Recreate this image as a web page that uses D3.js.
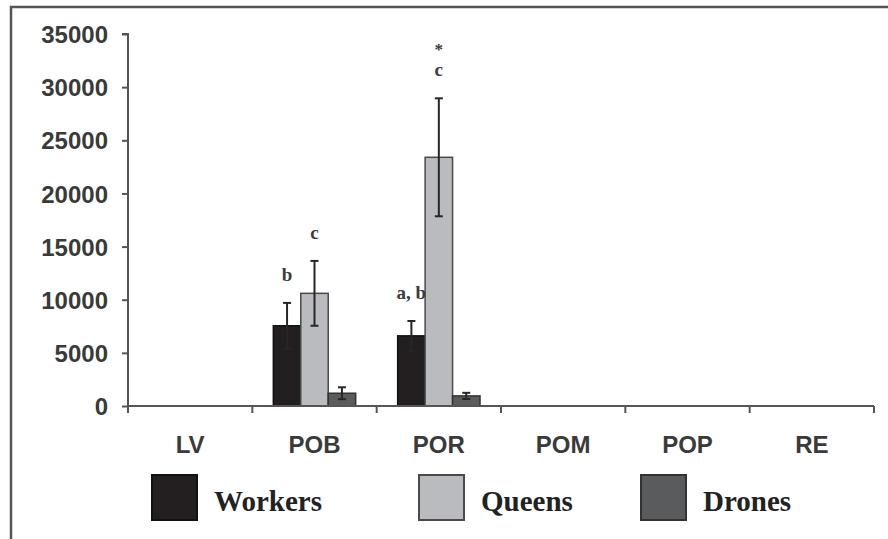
<!DOCTYPE html>
<html><head>
<meta charset="utf-8">
<title>Workers, Queens, Drones</title>
<script src="https://d3js.org/d3.v7.min.js"></script>
<style>
  body { margin: 0; background: #fff; }
  svg { display: block; }
  .tick-label { font-family: "Liberation Sans", Arial, sans-serif; font-weight: bold; font-size: 24px; fill: #3a3a3a; }
  .legend-label { font-family: "Liberation Serif", "Times New Roman", serif; font-weight: bold; font-size: 29px; fill: #222; }
  .letter { font-family: "Liberation Serif", "Times New Roman", serif; font-weight: bold; font-size: 19px; fill: #3c3c3c; }
</style>
</head>
<body>
<svg width="888" height="539"></svg>
<script>

// data
let categories = ["LV", "POB", "POR", "POM", "POP", "RE"];
let series = ["Workers", "Queens", "Drones"];
let colors = ["#231f20", "#babbbf", "#5a5b5d"];
let strokes = ["#111111", "#4a4a4a", "#333333"];
let means = {
  Workers: [0, 7550, 6600, 0, 0, 0],
  Queens:  [0, 10600, 23400, 0, 0, 0],
  Drones:  [0, 1200, 950, 0, 0, 0]
};
let errors = {
  Workers: [0, 2150, 1400, 0, 0, 0],
  Queens:  [0, 3050, 5550, 0, 0, 0],
  Drones:  [0, 560, 290, 0, 0, 0]
};
let yTicks = [0, 5000, 10000, 15000, 20000, 25000, 30000, 35000];
// significance letters: [category, series, lines from bottom to top]
let letters = [
  ["POB", "Workers", ["b"]],
  ["POB", "Queens", ["c"]],
  ["POR", "Workers", ["a, b"]],
  ["POR", "Queens", ["c", "*"]]
];

let svg = d3.select("svg");

// outer frame (runs off the right and bottom edge)
svg.append("rect")
    .attr("x", 11).attr("y", 7)
    .attr("width", 900).attr("height", 560)
    .style("fill", "none").style("stroke", "#555").style("stroke-width", 2.5);

let plotLeft = 128, plotRight = 874, plotTop = 34, plotBottom = 406;

let x = d3.scaleBand().domain(categories).range([plotLeft, plotRight]);
let x1 = d3.scaleBand().domain(series).range([21, x.bandwidth() - 21]);
let y = d3.scaleLinear().domain([0, 35000]).range([plotBottom, plotTop]);

// y axis
let yAxis = svg.append("g")
    .attr("transform", "translate(" + plotLeft + ",0)")
    .call(d3.axisLeft(y).tickValues(yTicks).tickSize(6).tickPadding(14).tickFormat(d3.format("d")));
yAxis.select(".domain").style("stroke", "#555").style("stroke-width", 2).attr("d", "M0," + (plotBottom + 1) + "V" + plotTop + "H-6");
yAxis.selectAll(".tick line").style("stroke", "#555").style("stroke-width", 2);
yAxis.selectAll(".tick text").attr("class", "tick-label").attr("dy", "0.36em");

// bars
let groups = svg.selectAll(".cat")
    .data(categories)
    .enter().append("g")
    .attr("transform", d => "translate(" + x(d) + ",0)");

series.forEach(function(s, si) {
  groups.filter((c, i) => means[s][i] > 0)
    .append("rect")
      .attr("x", c => x1(s))
      .attr("width", x1.bandwidth())
      .attr("y", c => y(means[s][categories.indexOf(c)]))
      .attr("height", c => plotBottom - y(means[s][categories.indexOf(c)]))
      .style("fill", colors[si])
      .style("stroke", strokes[si])
      .style("stroke-width", 1.5);
});

// error bars
series.forEach(function(s) {
  categories.forEach(function(c, i) {
    if (errors[s][i] <= 0) return;
    let cx = x(c) + x1(s) + x1.bandwidth() / 2;
    let hi = y(means[s][i] + errors[s][i]);
    let lo = y(means[s][i] - errors[s][i]);
    let g = svg.append("g").style("stroke", "#262626").style("stroke-width", 2);
    g.append("line").attr("x1", cx).attr("x2", cx).attr("y1", hi).attr("y2", lo);
    g.append("line").attr("x1", cx - 4).attr("x2", cx + 4).attr("y1", hi).attr("y2", hi);
    g.append("line").attr("x1", cx - 4).attr("x2", cx + 4).attr("y1", lo).attr("y2", lo);
  });
});

// x axis
svg.append("line")
    .attr("x1", plotLeft).attr("x2", plotRight).attr("y1", plotBottom).attr("y2", plotBottom)
    .style("stroke", "#555").style("stroke-width", 2);
svg.selectAll(".xtick")
    .data(categories.map(c => x(c)).concat([plotRight]))
    .enter().append("line")
    .attr("x1", d => d).attr("x2", d => d)
    .attr("y1", plotBottom).attr("y2", plotBottom + 7)
    .style("stroke", "#555").style("stroke-width", 2);
svg.selectAll(".xlabel")
    .data(categories)
    .enter().append("text")
    .attr("class", "tick-label")
    .attr("x", d => x(d) + x.bandwidth() / 2)
    .attr("y", 453)
    .attr("text-anchor", "middle")
    .text(d => d);

// letters above the error bars
letters.forEach(function(l) {
  let i = categories.indexOf(l[0]);
  let cx = x(l[0]) + x1(l[1]) + x1.bandwidth() / 2;
  let base = y(means[l[1]][i] + errors[l[1]][i]) - 22;
  l[2].forEach(function(t, k) {
    svg.append("text")
        .attr("class", "letter")
        .attr("x", cx)
        .attr("y", base - k * 21)
        .attr("text-anchor", "middle")
        .style("font-size", t === "*" ? "17px" : null)
        .text(t);
  });
});

// legend
let legendX = [152, 419, 641];
series.forEach(function(s, si) {
  svg.append("rect")
      .attr("x", legendX[si]).attr("y", 475)
      .attr("width", 45).attr("height", 45)
      .style("fill", colors[si])
      .style("stroke", strokes[si])
      .style("stroke-width", 2);
  svg.append("text")
      .attr("class", "legend-label")
      .attr("x", legendX[si] + 62)
      .attr("y", 511)
      .text(s);
});

</script>
</body>
</html>
